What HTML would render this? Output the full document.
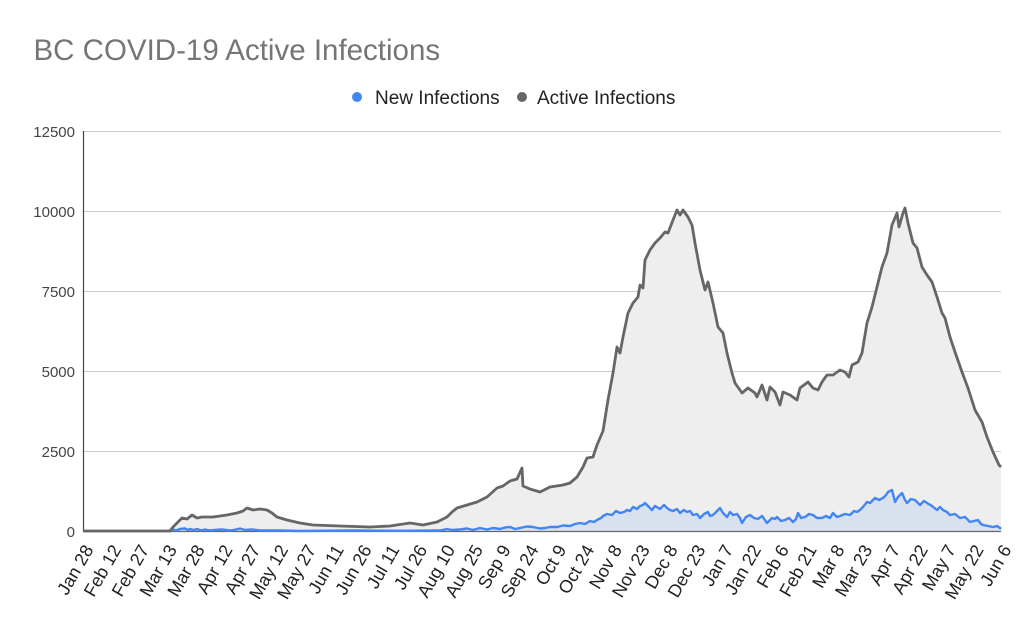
<!DOCTYPE html>
<html>
<head>
<meta charset="utf-8">
<style>
html,body{margin:0;padding:0;background:#fff;}
svg{display:block;}
text{font-family:"Liberation Sans",Arial,sans-serif;}
</style>
</head>
<body>
<svg width="1024" height="638" viewBox="0 0 1024 638" xmlns="http://www.w3.org/2000/svg">
<rect x="0" y="0" width="1024" height="638" fill="#ffffff"/>
<text x="33.5" y="60" font-size="29.5" fill="#757575">BC COVID-19 Active Infections</text>

<!-- legend -->
<circle cx="357" cy="97" r="5" fill="#4285f4"/>
<text x="375" y="104" font-size="19" fill="#222">New Infections</text>
<circle cx="522" cy="97" r="5" fill="#666666"/>
<text x="537" y="104" font-size="19" fill="#222">Active Infections</text>

<!-- gridlines -->
<g stroke="#cccccc" stroke-width="1">
<line x1="83" y1="131.5" x2="1001" y2="131.5"/>
<line x1="83" y1="211.5" x2="1001" y2="211.5"/>
<line x1="83" y1="291.5" x2="1001" y2="291.5"/>
<line x1="83" y1="371.5" x2="1001" y2="371.5"/>
<line x1="83" y1="451.5" x2="1001" y2="451.5"/>
</g>

<!-- y labels -->
<g font-size="15" fill="#444" text-anchor="end">
<text x="75" y="137">12500</text>
<text x="75" y="217">10000</text>
<text x="75" y="297">7500</text>
<text x="75" y="377">5000</text>
<text x="75" y="457">2500</text>
<text x="75" y="537">0</text>
</g>

<!-- active area fill -->
<path fill="#eeeeee" d="M83,531.5 L170,531 L173,527 L178,522 L182,518 L187,519 L192,515 L197,518 L202,517 L213,517 L227,515 L237,513 L243,511 L247,508 L253,510 L260,509 L267,510 L272,513 L277,517 L287,520 L300,523 L313,525 L340,526 L370,527 L390,526 L410,523 L423,525 L437,522 L447,517 L452,512 L457,508 L467,505 L477,502 L487,497 L497,488 L503,486 L510,481 L517,479 L522,468 L523,486 L530,489 L540,492 L550,487 L563,485 L570,483 L577,477 L583,467 L587,458 L593,457 L597,445 L603,431 L608,400 L613,373 L617,347 L620,353 L623,337 L628,313 L633,303 L638,297 L640,285 L643,288 L645,260 L650,250 L655,243 L660,238 L665,232 L668,233 L673,220 L677,210 L680,215 L683,210 L688,217 L692,225 L695,243 L700,270 L705,290 L708,282 L713,303 L718,327 L723,333 L727,353 L732,373 L735,383 L742,393 L748,388 L755,393 L757,397 L762,385 L767,400 L770,387 L775,392 L780,405 L783,392 L790,395 L797,400 L800,388 L808,382 L813,388 L818,390 L822,382 L827,375 L833,375 L840,370 L845,372 L849,377 L852,365 L858,362 L862,353 L867,323 L872,307 L877,287 L882,267 L887,253 L892,225 L897,213 L899,227 L903,213 L905,208 L908,223 L913,243 L917,248 L922,267 L927,275 L932,282 L937,297 L942,313 L945,318 L950,337 L955,352 L962,372 L968,388 L975,410 L982,422 L987,437 L993,452 L999,465 L1001,467 L1001,531.5 Z"/>

<!-- new infections area fill -->
<path fill="#dae1ee" d="M83,531.5 L170,531.5 L172,529 L180,530 L185,528.5 L190,530 L197,529 L205,530 L215,530 L240,529 L245,530 L260,530.5 L300,531 L440,530.5 L447,529 L460,529.5 L480,528 L500,529 L510,527 L520,528 L533,527 L545,528 L557,527 L570,526 L580,523 L590,521 L597,520 L603,516 L607,514 L612,515 L620,513 L627,510 L633,507 L640,506 L645,503 L652,510 L655,506 L660,509 L667,508 L673,511 L680,513 L687,512 L693,515 L700,518 L708,512 L713,515 L720,508 L727,517 L733,515 L740,518 L742,523 L750,515 L758,519 L767,523 L772,518 L777,517 L785,520 L793,522 L798,513 L805,517 L813,515 L822,518 L830,518 L833,513 L840,516 L850,515 L857,512 L863,507 L867,502 L870,503 L875,498 L883,498 L888,492 L892,490 L895,502 L902,493 L907,503 L915,500 L920,505 L927,503 L937,510 L943,510 L950,515 L960,518 L970,522 L978,520 L983,525 L993,527 L1000,528 L1001,529 L1001,531.5 Z"/>

<!-- axes -->
<line x1="83.5" y1="131" x2="83.5" y2="532" stroke="#444" stroke-width="1.2"/>
<line x1="83" y1="531.5" x2="1001" y2="531.5" stroke="#666" stroke-width="1.2"/>

<!-- new infections line -->
<polyline fill="none" stroke="#4285f4" stroke-width="2.4" stroke-linejoin="round" points="170,531.5 172,529 176,530.5 180,529 185,528.5 188,530 190,529 194,530 197,529 201,530.5 205,529.5 210,530.5 215,530 222,529.5 230,530.5 236,529.5 240,528.5 245,530 252,529.5 260,530.5 280,530.5 300,531 350,530.5 400,530.8 440,530.5 447,529 452,530 460,529.5 467,528.5 473,530 480,528 487,529.5 493,528 500,529 505,527.5 510,527 515,529 520,528 527,526.5 533,527 540,528.5 545,528 550,527 557,527 563,525.5 570,526 575,524 580,523 585,524 590,521 594,522 597,520 601,518 603,516 607,514 612,515 616,511 620,513 624,512 627,510 630,511 633,507 637,509 640,506 643,505 645,503 649,507 652,510 655,506 660,509 664,505 667,508 670,510 673,511 677,509 680,513 684,510 687,512 690,511 693,515 697,514 700,518 704,514 708,512 710,516 713,515 717,511 720,508 723,513 727,517 730,512 733,515 737,514 740,518 742,523 746,517 750,515 754,518 758,519 762,516 767,523 770,520 772,518 775,519 777,517 781,521 785,520 789,518 793,522 796,519 798,513 801,518 805,517 809,514 813,515 817,518 822,518 826,516 830,518 833,513 837,517 840,516 845,514 850,515 854,511 857,512 860,510 863,507 867,502 870,503 873,500 875,498 879,500 883,498 886,495 888,492 892,490 895,502 898,497 902,493 905,500 907,503 911,499 915,500 918,503 920,505 924,501 927,503 932,506 937,510 940,507 943,510 947,512 950,515 955,514 960,518 965,517 970,522 974,521 978,520 981,524 983,525 988,526 993,527 997,526 1000,528 1001,529"/>

<!-- active infections line -->
<polyline fill="none" stroke="#666666" stroke-width="2.8" stroke-linejoin="round" points="83,531 170,531 173,527 178,522 182,518 187,519 192,515 197,518 202,517 213,517 227,515 237,513 243,511 247,508 253,510 260,509 267,510 272,513 277,517 287,520 300,523 313,525 340,526 370,527 390,526 410,523 423,525 437,522 447,517 452,512 457,508 467,505 477,502 487,497 497,488 503,486 510,481 517,479 522,468 523,486 530,489 540,492 550,487 563,485 570,483 577,477 583,467 587,458 593,457 597,445 603,431 608,400 613,373 617,347 620,353 623,337 628,313 633,303 638,297 640,285 643,288 645,260 650,250 655,243 660,238 665,232 668,233 673,220 677,210 680,215 683,210 688,217 692,225 695,243 700,270 705,290 708,282 713,303 718,327 723,333 727,353 732,373 735,383 742,393 748,388 755,393 757,397 762,385 767,400 770,387 775,392 780,405 783,392 790,395 797,400 800,388 808,382 813,388 818,390 822,382 827,375 833,375 840,370 845,372 849,377 852,365 858,362 862,353 867,323 872,307 877,287 882,267 887,253 892,225 897,213 899,227 903,213 905,208 908,223 913,243 917,248 922,267 927,275 932,282 937,297 942,313 945,318 950,337 955,352 962,372 968,388 975,410 982,422 987,437 993,452 999,465 1001,467"/>

<!-- x labels -->
<g font-size="18" fill="#222" text-anchor="end">
<text transform="translate(94,549.5) rotate(-60)">Jan 28</text>
<text transform="translate(121.8,549.5) rotate(-60)">Feb 12</text>
<text transform="translate(149.6,549.5) rotate(-60)">Feb 27</text>
<text transform="translate(177.5,549.5) rotate(-60)">Mar 13</text>
<text transform="translate(205.3,549.5) rotate(-60)">Mar 28</text>
<text transform="translate(233.1,549.5) rotate(-60)">Apr 12</text>
<text transform="translate(260.9,549.5) rotate(-60)">Apr 27</text>
<text transform="translate(288.7,549.5) rotate(-60)">May 12</text>
<text transform="translate(316.5,549.5) rotate(-60)">May 27</text>
<text transform="translate(344.4,549.5) rotate(-60)">Jun 11</text>
<text transform="translate(372.2,549.5) rotate(-60)">Jun 26</text>
<text transform="translate(400,549.5) rotate(-60)">Jul 11</text>
<text transform="translate(427.8,549.5) rotate(-60)">Jul 26</text>
<text transform="translate(455.6,549.5) rotate(-60)">Aug 10</text>
<text transform="translate(483.5,549.5) rotate(-60)">Aug 25</text>
<text transform="translate(511.3,549.5) rotate(-60)">Sep 9</text>
<text transform="translate(539.1,549.5) rotate(-60)">Sep 24</text>
<text transform="translate(566.9,549.5) rotate(-60)">Oct 9</text>
<text transform="translate(594.7,549.5) rotate(-60)">Oct 24</text>
<text transform="translate(622.5,549.5) rotate(-60)">Nov 8</text>
<text transform="translate(650.4,549.5) rotate(-60)">Nov 23</text>
<text transform="translate(678.2,549.5) rotate(-60)">Dec 8</text>
<text transform="translate(706,549.5) rotate(-60)">Dec 23</text>
<text transform="translate(733.8,549.5) rotate(-60)">Jan 7</text>
<text transform="translate(761.6,549.5) rotate(-60)">Jan 22</text>
<text transform="translate(789.5,549.5) rotate(-60)">Feb 6</text>
<text transform="translate(817.3,549.5) rotate(-60)">Feb 21</text>
<text transform="translate(845.1,549.5) rotate(-60)">Mar 8</text>
<text transform="translate(872.9,549.5) rotate(-60)">Mar 23</text>
<text transform="translate(900.7,549.5) rotate(-60)">Apr 7</text>
<text transform="translate(928.5,549.5) rotate(-60)">Apr 22</text>
<text transform="translate(956.4,549.5) rotate(-60)">May 7</text>
<text transform="translate(984.2,549.5) rotate(-60)">May 22</text>
<text transform="translate(1012,549.5) rotate(-60)">Jun 6</text>
</g>
</svg>
</body>
</html>
